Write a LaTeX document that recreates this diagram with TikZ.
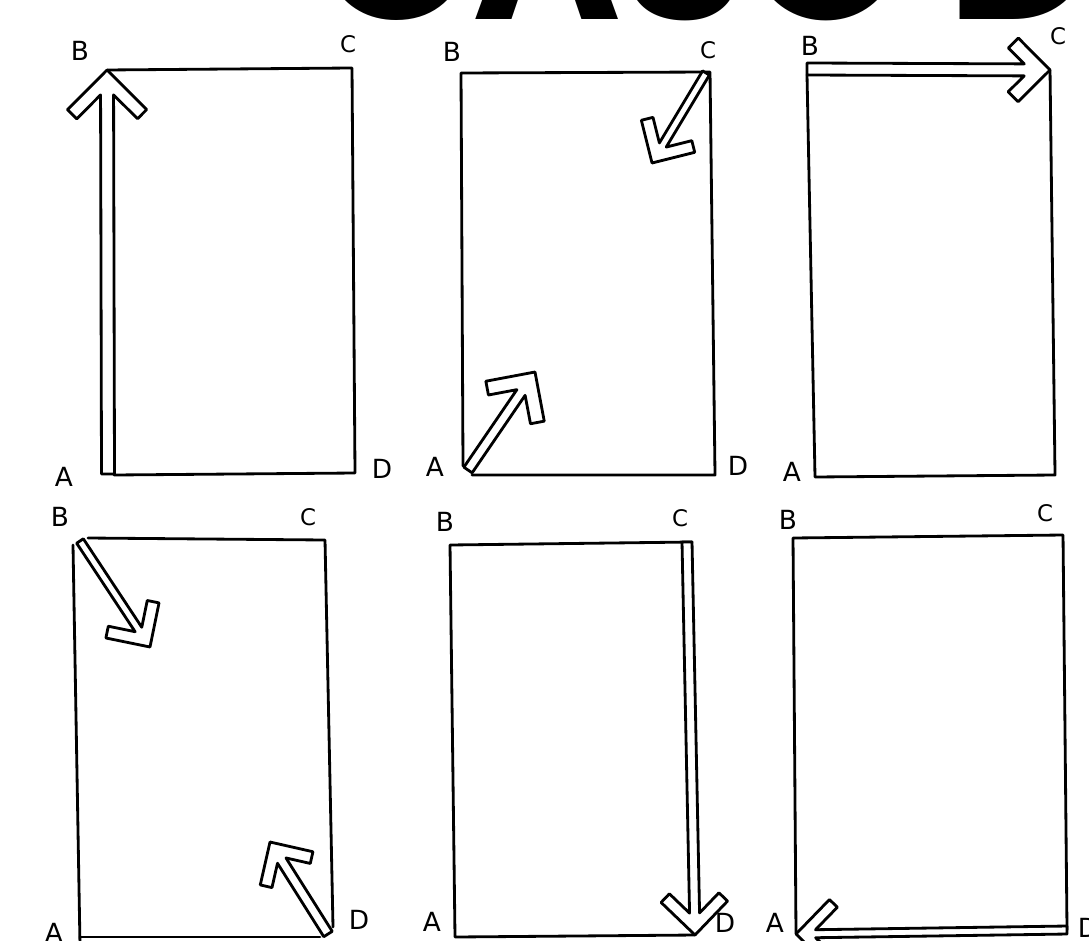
\documentclass[tikz,border=0pt]{standalone}
\usepackage{fontspec}
\setmainfont{DejaVu Sans}
\newfontfamily\bigfont{Poppins}
\usetikzlibrary{calc}
\tikzset{
  sketch/.style={line width=0.8pt, line join=round, line cap=round, black},
  harrowline/.style={sketch, fill=white},
  lbl/.style={font=\fontsize{7.5}{8}\selectfont, inner sep=0pt},
  lblc/.style={font=\fontsize{6.5}{7}\selectfont, inner sep=0pt},
}
% hollow arrow: #1 tail, #2 tip, #3 shaft half width, #4 arm length, #5 arm thickness (px)
\newcommand{\harrow}[5]{%
  \pgfmathsetmacro\hW{#3/100}%
  \pgfmathsetmacro\hbO{#4/sqrt(2)/100}%
  \pgfmathsetmacro\hbI{(#4+#5)/sqrt(2)/100}%
  \pgfmathsetmacro\hlI{(#4-#5)/sqrt(2)/100}%
  \pgfmathsetmacro\hbC{(#3+#5*sqrt(2))/100}%
  \draw[harrowline]
    ($(#1)!\hW cm!-90:(#2)$)
    -- ($(#2)!\hbC cm!(#1)!\hW cm!90:(#1)$)
    -- ($(#2)!\hbI cm!(#1)!\hlI cm!90:(#1)$)
    -- ($(#2)!\hbO cm!(#1)!\hbO cm!90:(#1)$)
    -- (#2)
    -- ($(#2)!\hbO cm!(#1)!\hbO cm!-90:(#1)$)
    -- ($(#2)!\hbI cm!(#1)!\hlI cm!-90:(#1)$)
    -- ($(#2)!\hbC cm!(#1)!\hW cm!-90:(#1)$)
    -- ($(#1)!\hW cm!90:(#2)$)
    -- cycle;}
\begin{document}
\begin{tikzpicture}[x=0.01cm,y=-0.01cm]
\useasboundingbox (0,0) rectangle (1089,940);
\fill[white] (0,0) rectangle (1089,940);
% title (cut off at top)
\begin{scope}
\clip (0,0) rectangle (1089,940);
\node[anchor=base west, inner sep=0pt, text depth=0pt, font=\bigfont\bfseries\fontsize{57.5}{60}\selectfont] (title) at (318,20) {CASO D};
\end{scope}

% ---------- panel 1 ----------
\coordinate (p1B) at (107,70);
\coordinate (p1C) at (352,68);
\coordinate (p1D) at (355,473);
\coordinate (p1A) at (114,475);
\coordinate (p1T) at (108,474);
\draw[sketch] (p1B) -- (p1C) -- (p1D) -- (p1A);
\harrow{p1T}{p1B}{6.5}{56}{13}
\node[lbl] (l1B) at (80,51) {B};
\node[lblc] (l1C) at (348,44) {C};
\node[lbl] (l1A) at (64,477) {A};
\node[lbl] (l1D) at (382,469) {D};

% ---------- panel 2 ----------
\coordinate (p2B) at (461,73);
\coordinate (p2C) at (710,72);
\coordinate (p2D) at (715,475);
\coordinate (p2A) at (472,475);
\coordinate (p2L) at (463,466);
\draw[sketch] (p2L) -- (p2B) -- (p2C) -- (p2D) -- (p2A);
\coordinate (p2t1) at (468,470);
\coordinate (p2h1) at (535,372);
\harrow{p2t1}{p2h1}{5}{50}{14}
\coordinate (p2t2) at (706,73);
\coordinate (p2h2) at (652,163);
\harrow{p2t2}{p2h2}{4}{44}{12}
\node[lbl] (l2B) at (452,52) {B};
\node[lblc] (l2C) at (708,50) {C};
\node[lbl] (l2A) at (435,467) {A};
\node[lbl] (l2D) at (738,466) {D};

% ---------- panel 3 ----------
\coordinate (p3B) at (807,75);
\coordinate (p3C) at (1050,70);
\coordinate (p3D) at (1055,475);
\coordinate (p3A) at (815,477);
\coordinate (p3T) at (807,69);
\draw[sketch] (p3C) -- (p3D) -- (p3A) -- (p3B);
\harrow{p3T}{p3C}{6}{45}{14}
\node[lbl] (l3B) at (810,46) {B};
\node[lblc] (l3C) at (1058,36) {C};
\node[lbl] (l3A) at (792,472) {A};

% ---------- panel 4 ----------
\coordinate (p4B) at (88,538);
\coordinate (p4C) at (325,540);
\coordinate (p4D) at (333,927);
\coordinate (p4E) at (320,937);
\coordinate (p4A) at (80,937);
\coordinate (p4L) at (73,545);
\coordinate (p4F) at (80,945);
\draw[sketch] (p4B) -- (p4C) -- (p4D);
\draw[sketch] (p4L) -- (p4F);
\draw[sketch] (p4A) -- (p4E);
\coordinate (p4t1) at (80,541);
\coordinate (p4h1) at (150,647);
\harrow{p4t1}{p4h1}{4}{45}{12}
\coordinate (p4t2) at (328,934);
\coordinate (p4h2) at (270,842);
\harrow{p4t2}{p4h2}{5}{44}{12}
\node[lbl] (l4B) at (60,517) {B};
\node[lblc] (l4C) at (308,517) {C};
\node[lbl] (l4A) at (54,933) {A};
\node[lbl] (l4D) at (359,920) {D};

% ---------- panel 5 ----------
\coordinate (p5B) at (450,545);
\coordinate (p5C) at (692,542);
\coordinate (p5D) at (695,935);
\coordinate (p5A) at (455,937);
\coordinate (p5T) at (687,542);
\draw[sketch] (p5C) -- (p5B) -- (p5A) -- (p5D);
\harrow{p5T}{p5D}{5}{47}{12}
\node[lbl] (l5B) at (445,522) {B};
\node[lblc] (l5C) at (680,518) {C};
\node[lbl] (l5A) at (432,922) {A};
\node[lbl] (l5D) at (725,923) {D};

% ---------- panel 6 ----------
\coordinate (p6B) at (793,538);
\coordinate (p6C) at (1063,535);
\coordinate (p6D) at (1067,930);
\coordinate (p6A) at (796,934);
\draw[sketch] (p6A) -- (p6B) -- (p6C) -- (p6D);
\harrow{p6D}{p6A}{4}{48}{11}
\node[lbl] (l6B) at (788,520) {B};
\node[lblc] (l6C) at (1045,513) {C};
\node[lbl] (l6A) at (775,923) {A};
\node[lbl] (l6D) at (1088,928) {D};
\end{tikzpicture}
\end{document}
